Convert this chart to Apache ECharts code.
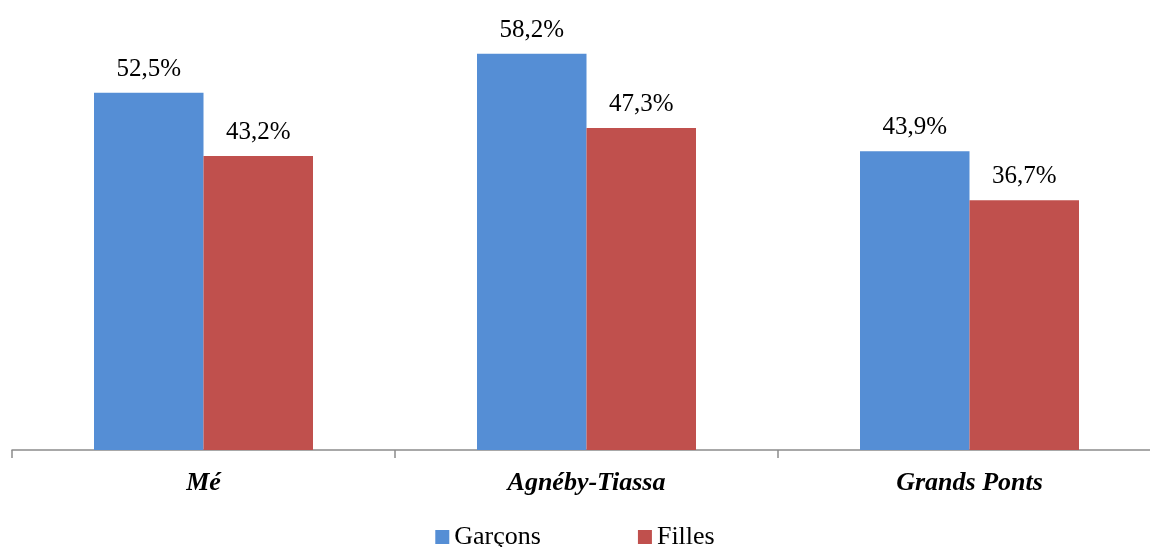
<!DOCTYPE html>
<html><head><meta charset="utf-8">
<script src="https://cdn.jsdelivr.net/npm/echarts@6/dist/echarts.min.js"></script>
<style>html,body{margin:0;padding:0;background:#fff}#c{width:1150px;height:547px}</style>
</head><body><div id="c"></div>
<script>
const categories = ['Mé', 'Agnéby-Tiassa', 'Grands Ponts'];
const garcons = [52.5, 58.2, 43.9];
const filles = [43.2, 47.3, 36.7];
const seriesNames = ['Garçons', 'Filles'];

const chart = echarts.init(document.getElementById('c'));
const fmt = p => p.value.toFixed(1).replace('.', ',') + '%';
const labelStyle = {show: true, position: 'top', distance: 11, fontFamily: 'Liberation Serif', fontSize: 25, color: '#000', formatter: fmt};
chart.setOption({
  animation: false,
  legend: {
    bottom: -8, left: 'center', itemGap: 97, itemWidth: 14, itemHeight: 14,
    icon: 'rect',
    textStyle: {fontFamily: 'Liberation Serif', fontSize: 26, color: '#000', padding: [0,0,0,0]},
    data: seriesNames
  },
  grid: {left: 12, width: 1149, top: 41.6, bottom: 97, containLabel: false, outerBoundsMode: 'none'},
  xAxis: {
    type: 'category', data: categories,
    axisLine: {lineStyle: {color: '#8c8c8c', width: 1.5}},
    axisTick: {show: true, length: 8, lineStyle: {color: '#8c8c8c', width: 1.5}},
    axisLabel: {fontFamily: 'Liberation Serif', fontSize: 26, fontWeight: 'bold', fontStyle: 'italic', color: '#000', margin: 20}
  },
  yAxis: {type: 'value', min: 0, max: 60, show: false, splitLine: {show: false}},
  series: [
    {name: seriesNames[0], type: 'bar', data: garcons, barWidth: 109.5, barGap: '0%', itemStyle: {color: '#558ed5'}, label: labelStyle},
    {name: seriesNames[1], type: 'bar', data: filles, barWidth: 109.5, itemStyle: {color: '#c0504d'}, label: labelStyle}
  ]
});
</script></body></html>
